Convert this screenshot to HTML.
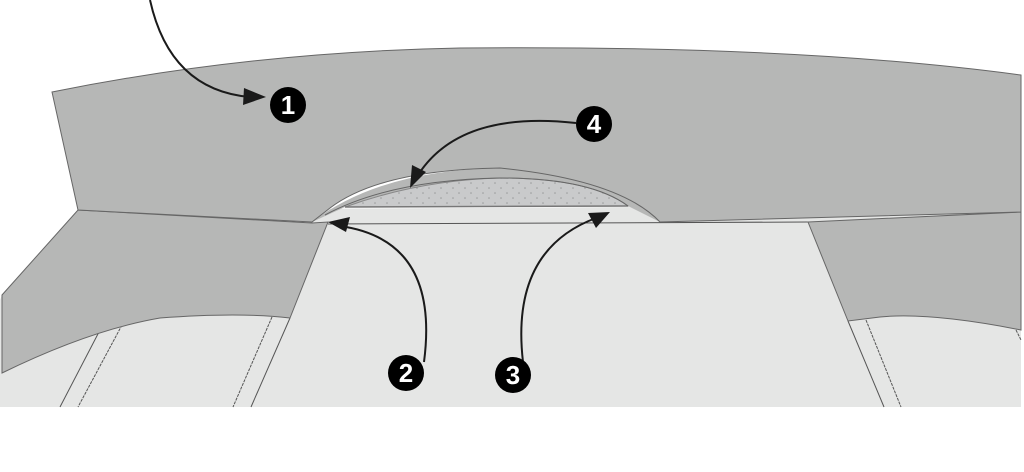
<!DOCTYPE html>
<html><head><meta charset="utf-8"><style>html,body{margin:0;padding:0;background:#fff}svg{display:block}</style></head>
<body>
<svg width="1024" height="472" viewBox="0 0 1024 472" xmlns="http://www.w3.org/2000/svg">
<defs>
<pattern id="dots" width="12" height="10" patternUnits="userSpaceOnUse"><rect width="12" height="10" fill="#c9cacb"/><circle cx="3" cy="3" r="0.8" fill="#9a9b9c"/><circle cx="9" cy="8" r="0.8" fill="#9a9b9c"/></pattern>
</defs>
<!-- light base -->
<path d="M0,373 L0,300 L2,295 L78,210 L1021,205 L1021,407 L0,407 Z" fill="#e5e6e5"/>
<!-- stitch lines -->
<g stroke="#555" stroke-width="1" fill="none">
<line x1="100" y1="330" x2="60" y2="407"/>
<line x1="122" y1="325" x2="78" y2="407" stroke-dasharray="3,1"/>
<line x1="272" y1="317" x2="233" y2="407" stroke-dasharray="3,1"/>
<line x1="290" y1="318" x2="251" y2="407"/>
<line x1="848" y1="321" x2="884" y2="407"/>
<line x1="866" y1="320" x2="901" y2="407" stroke-dasharray="3,1"/>
<line x1="1016" y1="330" x2="1021" y2="340" stroke-dasharray="3,1"/>
<line x1="328" y1="224" x2="808" y2="222"/>
</g>
<!-- left dark panel -->
<path d="M2,295 L78,210 L312,223 L328,222 L290,318 Q240,312 160,318 Q90,330 2,373 Z" fill="#b6b7b6" stroke="#666" stroke-width="1"/>
<!-- right dark panel -->
<path d="M808,222 L1021,212 L1021,330 Q930,312 880,317 L848,321 Z" fill="#b6b7b6" stroke="#666" stroke-width="1"/>
<!-- hood gray band -->
<path d="M312,222 Q380,170 500,168 Q620,180 660,222 L628,206 L345,207 Z" fill="#b6b7b6"/>
<!-- dotted area -->
<path d="M345,207 Q420,180 500,178 Q590,178 628,206 Z" fill="url(#dots)" stroke="#888" stroke-width="1"/>
<line x1="345" y1="207" x2="628" y2="206" stroke="#777" stroke-width="1.5"/>
<!-- top collar band -->
<path d="M52,92 Q250,52 460,48 Q800,45 1021,75 L1021,212 L660,222 Q620,180 500,168 Q380,170 330,208 L312,222 L78,210 Z" fill="#b6b7b6" stroke="#666" stroke-width="1"/>
<!-- inner hood line -->
<path d="M325,215 Q390,180 500,178 Q590,178 628,206" fill="none" stroke="#666" stroke-width="1"/>
<!-- arrows -->
<g stroke="#1a1a1a" stroke-width="2" fill="none">
<path d="M150,0 Q170,90 250,97"/>
<path d="M576,123 Q460,110 418,175"/>
<path d="M424,362 Q440,240 340,226"/>
<path d="M523,362 Q510,250 596,218"/>
</g>
<g fill="#1a1a1a">
<polygon points="266,97 244,88 243,105"/>
<polygon points="410,188 412,165 426,172"/>
<polygon points="328,222 350,217 346,232"/>
<polygon points="610,212 588,213 596,228"/>
</g>
<g fill="#000">
<circle cx="288" cy="105" r="18"/>
<circle cx="594" cy="124" r="18"/>
<circle cx="406" cy="373" r="18"/>
<circle cx="513" cy="375" r="18"/>
</g>
<g fill="#fff" font-family="Liberation Sans, sans-serif" font-weight="bold" font-size="26" text-anchor="middle">
<text x="288" y="114">1</text>
<text x="594" y="133">4</text>
<text x="406" y="382">2</text>
<text x="513" y="384">3</text>
</g>
</svg>
</body></html>
